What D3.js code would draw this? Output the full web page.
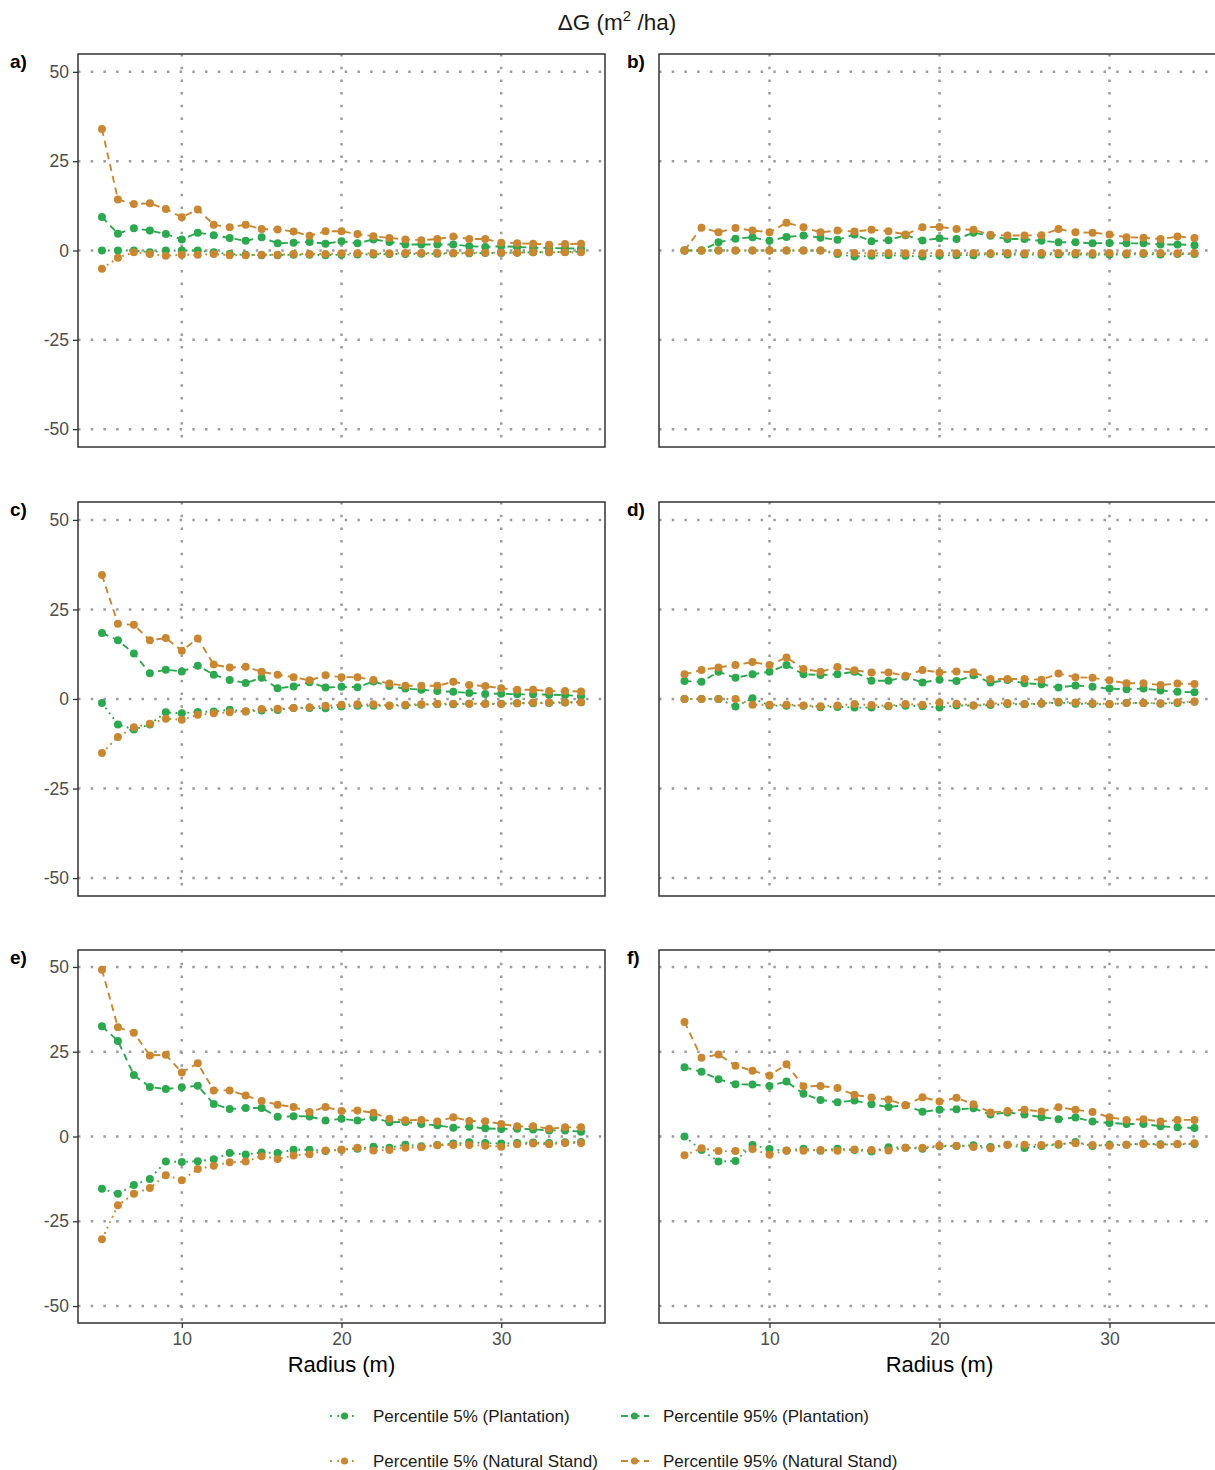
<!DOCTYPE html>
<html>
<head>
<meta charset="utf-8">
<script src="https://cdn.jsdelivr.net/npm/d3@7"></script>
<style>
    body { margin: 0; background: #fff; }
    text { font-family: "Liberation Sans", Arial, sans-serif; }
</style>
</head>
<body>
<div id="chart"></div>
<script>

// radius values (m), same for all panels
const radius = d3.range(5, 36);

// panel a
const p5PlantA = [0, 0, 0, -0.5, 0, 0, 0, -0.5, -1, -1.2, -1.3, -1.3, -1.2, -1.2, -1.3, -1.2, -1.1, -1.1, -1, -1, -0.9, -0.9, -0.8, -0.8, -0.7, -0.7, -0.6, -0.5, -0.5, -0.4, -0.3];
const p95PlantA = [9.4, 4.7, 6.2, 5.6, 4.6, 3.1, 5.0, 4.3, 3.5, 2.7, 3.7, 2.0, 2.2, 2.4, 1.9, 2.6, 2.0, 3.1, 2.4, 1.7, 1.7, 1.7, 1.7, 1.2, 1.0, 1.2, 1.0, 0.8, 0.7, 0.6, 0.5];
const p5NatA = [-5.1, -2.0, -0.5, -1.0, -1.5, -1.2, -1.2, -1.0, -1.3, -1.3, -1.2, -1.2, -1.0, -1.0, -1.0, -0.8, -0.8, -0.8, -0.8, -0.7, -0.7, -0.7, -0.7, -0.6, -0.6, -0.6, -0.6, -0.5, -0.5, -0.5, -0.5];
const p95NatA = [34.0, 14.3, 13.0, 13.2, 11.6, 9.3, 11.5, 7.2, 6.5, 7.2, 6.0, 5.9, 5.3, 4.1, 5.4, 5.4, 4.6, 4.0, 3.5, 3.1, 2.9, 3.2, 3.9, 3.2, 3.2, 2.2, 2.0, 1.9, 1.6, 1.8, 1.9];

// panel b
const p5PlantB = [0, 0, 0, 0, 0, 0, 0, 0, 0, -1.0, -1.7, -1.5, -1.3, -1.5, -1.7, -1.4, -1.3, -1.3, -1.0, -1.1, -1.1, -1.2, -1.1, -1.1, -1.2, -1.1, -1.1, -1.0, -1.1, -1.0, -1.0];
const p95PlantB = [0, 0, 2.3, 3.3, 3.7, 2.7, 3.8, 4.2, 3.6, 3.0, 4.5, 2.6, 2.9, 4.3, 2.8, 3.4, 3.2, 5.0, 4.1, 3.2, 3.2, 2.7, 2.3, 2.3, 2.0, 2.1, 2.0, 2.0, 1.7, 1.7, 1.5];
const p5NatB = [0, 0, 0, 0, 0, 0, 0, 0, 0, -0.6, -0.7, -0.8, -0.7, -0.8, -0.8, -0.7, -0.8, -0.7, -0.8, -0.7, -0.8, -0.7, -0.7, -0.7, -0.8, -0.7, -0.8, -0.7, -0.7, -0.8, -0.7];
const p95NatB = [0, 6.4, 5.1, 6.3, 5.6, 5.1, 7.8, 6.5, 5.1, 5.6, 5.3, 5.8, 5.4, 4.5, 6.5, 6.6, 6.0, 5.8, 4.4, 4.2, 4.2, 4.3, 6.0, 5.1, 5.0, 4.5, 3.7, 3.6, 3.2, 3.9, 3.5];

// panel c
const p5PlantC = [-1.1, -7.1, -8.5, -7.1, -3.7, -4.0, -3.6, -3.5, -3.0, -3.5, -3.2, -3.1, -2.5, -2.5, -2.6, -2.1, -1.9, -1.9, -1.9, -1.8, -1.6, -1.5, -1.5, -1.3, -1.3, -1.3, -1.2, -1.2, -1.1, -1.0, -0.9];
const p95PlantC = [18.4, 16.4, 12.7, 7.2, 8.2, 7.7, 9.3, 6.8, 5.3, 4.5, 5.9, 3.0, 3.5, 4.7, 3.2, 3.4, 3.3, 4.9, 3.6, 2.9, 2.6, 2.2, 2.0, 1.7, 1.4, 1.5, 1.3, 1.3, 1.2, 1.1, 0.8];
const p5NatC = [-15.1, -10.6, -7.9, -6.9, -5.5, -5.8, -4.4, -4.0, -3.7, -3.4, -2.8, -2.7, -2.5, -2.3, -1.9, -1.6, -1.5, -1.5, -1.8, -1.6, -1.5, -1.3, -1.3, -1.3, -1.4, -1.4, -1.2, -1.0, -1.0, -0.9, -0.9];
const p95NatC = [34.6, 21.0, 20.7, 16.4, 17.0, 13.5, 16.9, 9.6, 8.8, 9.0, 7.6, 6.8, 6.1, 5.2, 6.6, 6.1, 6.1, 5.3, 4.3, 3.7, 3.7, 3.7, 4.8, 3.9, 3.6, 3.0, 2.6, 2.6, 2.2, 2.2, 2.1];

// panel d
const p5PlantD = [0, 0, 0, -2.1, 0.2, -1.8, -1.9, -1.9, -2.3, -2.2, -2.4, -2.4, -2.0, -1.9, -2.0, -2.4, -1.8, -1.8, -1.7, -1.4, -1.5, -1.3, -1.0, -1.3, -1.4, -1.5, -1.1, -1.1, -1.3, -1.1, -0.8];
const p95PlantD = [5.0, 4.8, 7.6, 5.9, 6.9, 7.6, 9.5, 6.9, 6.7, 6.9, 7.6, 5.1, 5.1, 6.2, 4.6, 5.4, 5.0, 6.6, 4.6, 5.3, 4.4, 4.1, 3.2, 3.8, 3.4, 2.9, 2.7, 2.9, 2.4, 2.0, 1.9];
const p5NatD = [0, 0, 0, 0, -1.6, -1.6, -1.6, -1.8, -2.0, -1.8, -1.4, -1.7, -1.9, -1.4, -1.6, -1.0, -1.3, -1.8, -1.3, -1.1, -1.4, -1.2, -0.8, -1.0, -1.2, -1.4, -1.1, -1.1, -1.2, -0.9, -0.7];
const p95NatD = [6.9, 8.1, 8.8, 9.5, 10.3, 9.5, 11.6, 8.4, 7.6, 8.9, 8.0, 7.4, 7.4, 6.5, 8.1, 7.4, 7.7, 7.5, 5.6, 5.6, 5.6, 5.4, 7.1, 6.1, 5.9, 5.2, 4.4, 4.4, 3.9, 4.3, 4.2];

// panel e
const p5PlantE = [-15.4, -16.9, -14.3, -12.5, -7.4, -7.5, -7.3, -6.7, -4.9, -5.3, -4.7, -4.9, -3.9, -3.9, -4.3, -3.9, -3.6, -3.0, -3.3, -2.4, -2.9, -2.5, -2.1, -1.7, -1.9, -2.1, -1.9, -1.8, -1.9, -1.7, -1.6];
const p95PlantE = [32.5, 28.2, 18.1, 14.6, 14.0, 14.5, 15.0, 9.6, 8.1, 8.4, 8.4, 5.8, 6.0, 5.9, 4.7, 5.2, 4.7, 5.6, 4.2, 4.3, 3.7, 3.3, 2.6, 2.9, 2.4, 2.2, 2.3, 2.1, 1.8, 1.8, 1.4];
const p5NatE = [-30.3, -20.3, -16.9, -15.2, -11.4, -12.9, -9.6, -8.6, -7.6, -7.4, -5.8, -6.6, -5.6, -5.2, -4.1, -3.9, -3.3, -4.1, -4.0, -3.3, -3.2, -2.6, -2.5, -2.5, -2.7, -3.0, -2.3, -2.1, -2.3, -1.9, -1.9];
const p95NatE = [49.2, 32.2, 30.6, 23.9, 24.1, 18.9, 21.6, 13.6, 13.6, 12.1, 10.5, 9.4, 8.7, 7.2, 8.7, 7.5, 7.7, 7.0, 5.2, 4.8, 4.9, 4.4, 5.7, 4.6, 4.5, 3.7, 3.0, 3.0, 2.3, 2.7, 2.7];

// panel f
const p5PlantF = [0, -4.0, -7.4, -7.2, -2.5, -3.7, -4.2, -3.6, -4.2, -3.6, -4.0, -4.4, -3.2, -3.3, -3.6, -2.9, -2.8, -2.6, -3.1, -2.4, -3.4, -2.8, -2.4, -1.6, -2.8, -2.4, -2.4, -2.1, -2.3, -2.3, -2.2];
const p95PlantF = [20.4, 19.1, 16.9, 15.4, 15.3, 14.9, 16.2, 12.6, 10.8, 10.1, 10.6, 9.5, 8.7, 9.2, 7.3, 7.9, 8.0, 8.3, 6.5, 7.1, 6.5, 5.7, 5.1, 5.6, 4.4, 4.0, 3.7, 3.7, 3.0, 2.7, 2.5];
const p5NatF = [-5.5, -3.5, -4.3, -4.3, -3.7, -5.4, -4.1, -4.2, -4.0, -4.2, -3.8, -4.0, -4.1, -3.3, -3.3, -2.7, -2.7, -3.1, -3.5, -2.4, -2.4, -2.5, -2.2, -2.0, -2.5, -2.7, -2.4, -2.2, -2.5, -2.2, -2.0];
const p95NatF = [33.8, 23.2, 24.2, 20.9, 19.4, 18.0, 21.3, 14.8, 14.9, 14.3, 12.3, 11.5, 10.9, 9.2, 11.6, 10.3, 11.4, 9.5, 7.1, 7.5, 7.9, 7.4, 8.6, 7.9, 7.2, 5.7, 4.9, 5.1, 4.4, 4.9, 4.9];

const panelLabels = ["a)", "b)", "c)", "d)", "e)", "f)"];
const seriesNames = ["Percentile 5% (Plantation)", "Percentile 95% (Plantation)",
    "Percentile 5% (Natural Stand)", "Percentile 95% (Natural Stand)"];
const xTicks = [10, 20, 30];
const yTicks = [-50, -25, 0, 25, 50];

const green = "#2ca84f";
const orange = "#c98731";
const seriesStyle = [
    { color: green, dash: "1.8 4.2" },
    { color: green, dash: "7 5" },
    { color: orange, dash: "1.8 4.2" },
    { color: orange, dash: "7 5" }
];

const panelData = [
    [p5PlantA, p95PlantA, p5NatA, p95NatA],
    [p5PlantB, p95PlantB, p5NatB, p95NatB],
    [p5PlantC, p95PlantC, p5NatC, p95NatC],
    [p5PlantD, p95PlantD, p5NatD, p95NatD],
    [p5PlantE, p95PlantE, p5NatE, p95NatE],
    [p5PlantF, p95PlantF, p5NatF, p95NatF]
];

// panel frames (columns / rows)
const cols = [{ x0: 78, x1: 605 }, { x0: 659, x1: 1220 }];
const rows = [{ y0: 54, y1: 447 }, { y0: 502, y1: 896 }, { y0: 950, y1: 1323 }];

const svg = d3.select("#chart").append("svg")
    .attr("width", 1215)
    .attr("height", 1470);

// title
svg.append("text")
    .attr("x", 617)
    .attr("y", 30)
    .attr("text-anchor", "middle")
    .style("font-size", "22.5px")
    .style("fill", "#1a1a1a")
    .call(t => {
        t.append("tspan").text("\u0394G (m");
        t.append("tspan").attr("dy", -9).style("font-size", "15px").text("2");
        t.append("tspan").attr("dy", 9).text(" /ha)");
    });

const line = (x, y) => d3.line()
    .x((d, i) => x(radius[i]))
    .y(d => y(d));

panelData.forEach((series, p) => {
    let col = cols[p % 2], row = rows[Math.floor(p / 2)];
    let isLeft = p % 2 === 0, isBottom = p >= 4;

    let x = d3.scaleLinear().domain([3.5, 36.5]).range([col.x0, col.x1]);
    let y = d3.scaleLinear().domain([-55, 55]).range([row.y1, row.y0]);

    let g = svg.append("g").attr("class", "panel");

    // gridlines
    g.selectAll(".hgrid")
        .data(yTicks)
        .enter().append("line")
        .attr("x1", col.x0).attr("x2", col.x1)
        .attr("y1", d => y(d)).attr("y2", d => y(d))
        .style("stroke", "#9c9c9c")
        .style("stroke-width", 2.5)
        .style("stroke-dasharray", "2.5 10.2");
    g.selectAll(".vgrid")
        .data(xTicks)
        .enter().append("line")
        .attr("y1", row.y0).attr("y2", row.y1)
        .attr("x1", d => x(d)).attr("x2", d => x(d))
        .style("stroke", "#9c9c9c")
        .style("stroke-width", 2.5)
        .style("stroke-dasharray", "2.5 10.2");

    // lines first, then points
    series.forEach((vals, s) => {
        g.append("path")
            .datum(vals)
            .attr("d", line(x, y))
            .style("fill", "none")
            .style("stroke", seriesStyle[s].color)
            .style("stroke-width", 1.9)
            .style("stroke-dasharray", seriesStyle[s].dash);
    });
    series.forEach((vals, s) => {
        g.selectAll(".pt" + s)
            .data(vals)
            .enter().append("circle")
            .attr("cx", (d, i) => x(radius[i]))
            .attr("cy", d => y(d))
            .attr("r", 4)
            .style("fill", seriesStyle[s].color);
    });

    // border
    g.append("rect")
        .attr("x", col.x0).attr("y", row.y0)
        .attr("width", col.x1 - col.x0).attr("height", row.y1 - row.y0)
        .style("fill", "none")
        .style("stroke", "#333")
        .style("stroke-width", 1.5);

    // axes
    if (isLeft) {
        let yAxis = d3.axisLeft(y).tickValues(yTicks).tickSize(5).tickPadding(4)
            .tickFormat(d => String(d));
        g.append("g")
            .attr("class", "y-axis axis")
            .attr("transform", "translate(" + col.x0 + ",0)")
            .call(yAxis)
            .call(a => a.select(".domain").remove())
            .call(a => a.selectAll("line").style("stroke", "#333").style("stroke-width", 1.3))
            .call(a => a.selectAll("text").attr("font-size", 17.5).attr("fill", "#4d4d4d")
                .attr("font-family", "Liberation Sans, Arial, sans-serif"));
    }
    if (isBottom) {
        let xAxis = d3.axisBottom(x).tickValues(xTicks).tickSize(5).tickPadding(5);
        g.append("g")
            .attr("class", "x-axis axis")
            .attr("transform", "translate(0," + row.y1 + ")")
            .call(xAxis)
            .call(a => a.select(".domain").remove())
            .call(a => a.selectAll("line").style("stroke", "#333").style("stroke-width", 1.3))
            .call(a => a.selectAll("text").attr("font-size", 17.5).attr("fill", "#4d4d4d")
                .attr("font-family", "Liberation Sans, Arial, sans-serif"));

        g.append("text")
            .attr("x", (col.x0 + col.x1) / 2)
            .attr("y", row.y1 + 49)
            .attr("text-anchor", "middle")
            .style("font-size", "22px")
            .style("fill", "#000")
            .text("Radius (m)");
    }

    // panel label
    g.append("text")
        .attr("x", isLeft ? 10 : 627)
        .attr("y", row.y0 + 14)
        .style("font-size", "19px")
        .style("font-weight", "700")
        .style("fill", "#000")
        .text(panelLabels[p]);
});

// legend
const legendPos = [
    { x: 330, y: 1416 }, { x: 620, y: 1416 },
    { x: 330, y: 1461 }, { x: 620, y: 1461 }
];
let legend = svg.append("g").attr("class", "legend");
seriesNames.forEach((name, s) => {
    let pos = legendPos[s];
    legend.append("line")
        .attr("x1", pos.x).attr("x2", pos.x + 29)
        .attr("y1", pos.y).attr("y2", pos.y)
        .style("stroke", seriesStyle[s].color)
        .style("stroke-width", 1.9)
        .style("stroke-dasharray", s % 2 === 0 ? "1.8 5.5" : "7 4.5")
        .style("stroke-dashoffset", s % 2 === 0 ? 0 : -1);
    legend.append("circle")
        .attr("cx", pos.x + 14.5).attr("cy", pos.y)
        .attr("r", 3.6)
        .style("fill", seriesStyle[s].color);
    legend.append("text")
        .attr("x", pos.x + 43)
        .attr("y", pos.y + 6)
        .style("font-size", "17px")
        .style("fill", "#1a1a1a")
        .text(name);
});

</script>
</body>
</html>
